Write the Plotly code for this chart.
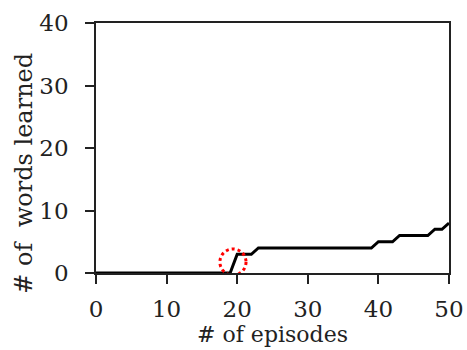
import plotly.graph_objects as go

episodes = list(range(0, 51))
words_learned = [0]*20 + [3]*3 + [4]*17 + [5]*3 + [6]*5 + [7]*2 + [8]
x_ticks = [0, 10, 20, 30, 40, 50]
y_ticks = [0, 10, 20, 30, 40]
highlight_episode = 19.4
highlight_value = 1.75

font = "DejaVu Serif"
fig = go.Figure()
fig.add_trace(go.Scatter(x=episodes, y=words_learned, mode="lines",
                         line=dict(color="black", width=3), showlegend=False))
fig.add_shape(type="circle", xref="x", yref="y",
              x0=highlight_episode - 1.85, x1=highlight_episode + 1.85,
              y0=highlight_value - 2.1, y1=highlight_value + 2.1,
              line=dict(color="red", width=3, dash="dot"))
axis_common = dict(showline=True, linecolor="#222", linewidth=1.5, mirror=True,
                   ticks="outside", ticklen=9, tickwidth=1.5, tickcolor="#222",
                   showgrid=False, zeroline=False, automargin=False,
                   tickfont=dict(family=font, size=23, color="#222"))
fig.update_xaxes(range=[0, 50], tickvals=x_ticks, ticklabelstandoff=6, **axis_common,
                 title=dict(text="# of episodes", font=dict(family=font, size=22, color="#222"), standoff=0))
fig.update_yaxes(range=[0, 40], tickvals=y_ticks, ticklabelstandoff=12, **axis_common)
fig.add_annotation(text="# of  words learned", textangle=-90, showarrow=False,
                   xref="paper", yref="paper", x=-0.205, y=0.40,
                   xanchor="center", yanchor="middle",
                   font=dict(family=font, size=24, color="#222"))
fig.update_layout(width=467, height=350, margin=dict(l=96, r=18, t=23, b=77),
                  plot_bgcolor="white", paper_bgcolor="white")
fig.write_html("out.html")
